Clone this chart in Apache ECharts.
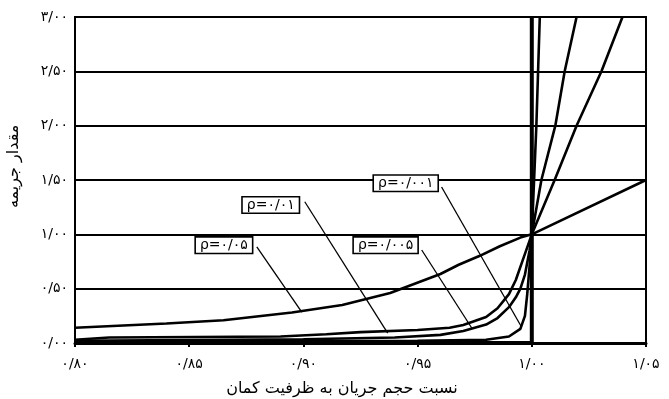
<!DOCTYPE html>
<html><head><meta charset="utf-8">
<script src="https://cdn.jsdelivr.net/npm/echarts@6/dist/echarts.min.js"></script>
<style>html,body{margin:0;padding:0;background:#fff}#c{width:669px;height:399px}</style>
</head><body><div id="c"></div>
<script>
// ---- data ----
const xTickLabels = ['۰/۸۰','۰/۸۵','۰/۹۰','۰/۹۵','۱/۰۰','۱/۰۵'];
const yTickLabels = ['۰/۰۰','۰/۵۰','۱/۰۰','۱/۵۰','۲/۰۰','۲/۵۰','۳/۰۰'];
const xTitle = 'نسبت حجم جریان به ظرفیت کمان';
const yTitle = 'مقدار جریمه';

const rho005X = [0.80,0.84,0.865,0.895,0.917,0.938,0.96,0.968,0.977,0.986,0.995,1.00,1.05];
const rho005Y = [0.14,0.18,0.21,0.28,0.35,0.46,0.635,0.72,0.80,0.89,0.97,1.00,1.50];

const rho001X = [0.80,0.815,0.89,0.91,0.925,0.95,0.964,0.97,0.98,0.985,0.99,0.993,0.996,0.998,1.00,1.010,1.0196,1.0305,1.0397];
const rho001Y = [0.03,0.05,0.06,0.08,0.10,0.12,0.14,0.165,0.24,0.32,0.45,0.58,0.76,0.88,1.00,1.5,2.0,2.5,3.0];

const rho0005X = [0.80,0.90,0.94,0.96,0.97,0.98,0.985,0.99,0.993,0.995,0.997,0.999,1.00,1.0042,1.0103,1.0144,1.0196];
const rho0005Y = [0.02,0.035,0.05,0.075,0.11,0.17,0.23,0.33,0.42,0.50,0.63,0.85,1.00,1.5,2.0,2.5,3.0];

const rho0001X = [0.80,0.95,0.98,0.99,0.995,0.997,0.998,0.999,1.00,1.002,1.0035];
const rho0001Y = [0.01,0.02,0.03,0.06,0.13,0.25,0.45,0.70,1.00,2.0,3.0];

const rho0X = [0.80,1.00,1.00];
const rho0Y = [0.00,0.00,3.00];

const seriesNames = ['ρ=۰/۰۵','ρ=۰/۰۱','ρ=۰/۰۰۵','ρ=۰/۰۰۱'];

// annotation boxes (data coords): box centre, leader start, leader end
const notes = [
  {box:[0.8652,0.90], from:[0.8796,0.884], to:[0.8993,0.285]},
  {box:[0.8857,1.27], from:[0.9006,1.30],  to:[0.9369,0.09]},
  {box:[0.9360,0.90], from:[0.9518,0.856], to:[0.9737,0.138]},
  {box:[0.9448,1.47], from:[0.9605,1.436], to:[0.9955,0.147]}
];

const zip = (xs, ys) => xs.map((x, i) => [x, ys[i]]);
const curves = [zip(rho005X,rho005Y), zip(rho001X,rho001Y), zip(rho0005X,rho0005Y), zip(rho0001X,rho0001Y)];

const FONT = 'DejaVu Sans';
const chart = echarts.init(document.getElementById('c'), null, {renderer:'canvas'});

const series = curves.map((d, i) => ({
  type:'line', name: seriesNames[i], data: d, symbol:'none', smooth:false,
  lineStyle:{color:'#000', width:2.6}, z: 3,
  markLine:{silent:true, symbol:['none','none'], animation:false,
    lineStyle:{color:'#000', width:1.3, type:'solid'}, label:{show:false},
    data:[[{coord:notes[i].from},{coord:notes[i].to}]]},
  markPoint:{silent:true, animation:false, symbol:'rect', symbolSize:[1,1],
    itemStyle:{color:'rgba(0,0,0,0)'},
    label:{show:true, position:'inside', formatter: seriesNames[i], color:'#000',
      fontFamily: FONT, fontSize:14, backgroundColor:'#fff', borderColor:'#000',
      borderWidth:1.6, padding:[1,4,0,4]},
    data:[{coord:notes[i].box}]}
}));
series.push({type:'line', name:'ρ=0', data: zip(rho0X,rho0Y), symbol:'none',
  lineStyle:{color:'#000', width:4}, z:4});

chart.setOption({
  animation:false,
  backgroundColor:'#fff',
  grid:{left:75, right:23, top:17, bottom:56, show:true, borderColor:'#000', borderWidth:2, backgroundColor:'transparent'},
  xAxis:{type:'value', min:0.8, max:1.05, interval:0.05,
    axisLine:{show:true, lineStyle:{color:'#000', width:3}},
    axisTick:{show:true, length:4, lineStyle:{color:'#000', width:2}},
    splitLine:{show:false},
    axisLabel:{color:'#000', fontFamily:FONT, fontSize:14, margin:14,
      formatter: v => xTickLabels[Math.round((v-0.8)/0.05)]}},
  yAxis:{type:'value', min:0, max:3, interval:0.5,
    axisLine:{show:true, lineStyle:{color:'#000', width:2}},
    axisTick:{show:false},
    splitLine:{show:true, lineStyle:{color:'#000', width:2}},
    axisLabel:{color:'#000', fontFamily:FONT, fontSize:14, margin:7,
      formatter: v => yTickLabels[Math.round(v/0.5)]}},
  graphic:[
    {type:'text', x:342, y:381, style:{text:xTitle, fontFamily:FONT, fontSize:16, fill:'#000', textAlign:'center', textVerticalAlign:'top'}},
    {type:'text', rotation:Math.PI/2, x:6, y:208, style:{text:yTitle, fontFamily:FONT, fontSize:16, fill:'#000', textAlign:'left', textVerticalAlign:'top'}}
  ],
  series
});
</script></body></html>
